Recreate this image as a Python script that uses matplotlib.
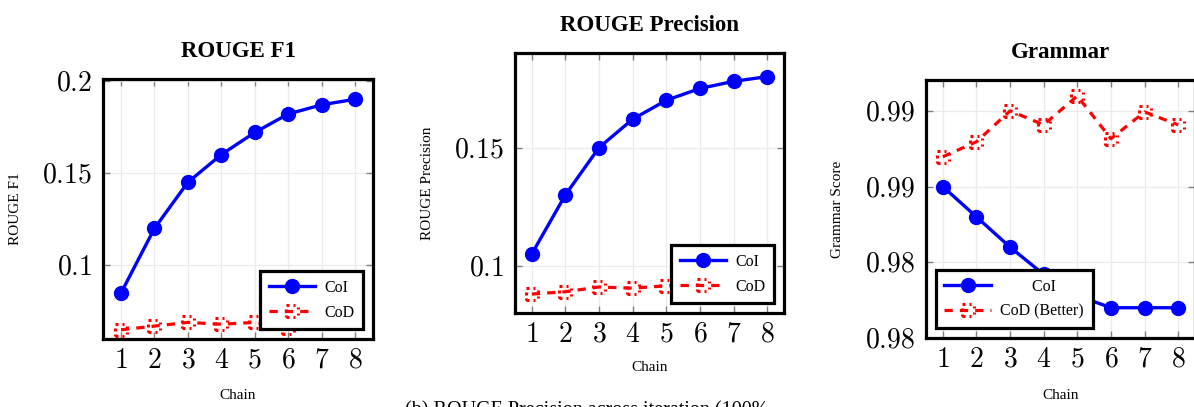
import numpy as np
import matplotlib
matplotlib.use("Agg")
import matplotlib.pyplot as plt
from matplotlib.path import Path

plt.rcParams["font.family"] = ["Liberation Serif", "DejaVu Serif"]
plt.rcParams["mathtext.fontset"] = "cm"

# data
chain = [1, 2, 3, 4, 5, 6, 7, 8]

f1_coi = [0.085, 0.12, 0.145, 0.16, 0.172, 0.182, 0.187, 0.19]
f1_cod = [0.065, 0.067, 0.069, 0.068, 0.069, 0.066, 0.070, 0.070]

prec_coi = [0.105, 0.13, 0.15, 0.162, 0.17, 0.175, 0.178, 0.18]
prec_cod = [0.088, 0.089, 0.091, 0.0905, 0.0915, 0.092, 0.093, 0.093]

gram_coi = [0.985, 0.983, 0.981, 0.9792, 0.9778, 0.977, 0.977, 0.977]
gram_cod = [0.98697, 0.98796, 0.9900, 0.98908, 0.99099, 0.98816, 0.98993, 0.98908]

f1_ticks = [0.1, 0.15, 0.2]
f1_ticklabels = ["0.1", "0.15", "0.2"]
prec_ticks = [0.1, 0.15]
prec_ticklabels = ["0.1", "0.15"]
gram_ticks = [0.975, 0.98, 0.985, 0.99]
gram_ticklabels = ["0.98", "0.98", "0.99", "0.99"]


def dashed_square(on=0.5, off=0.6):
    # square marker whose outline is dashed, like the pgfplots marks
    corners = np.array([[-1, -1], [1, -1], [1, 1], [-1, 1], [-1, -1]], float)
    verts, codes = [], []
    drawing, left = True, on
    for a, b in zip(corners[:-1], corners[1:]):
        seg = np.linalg.norm(b - a)
        t = 0.0
        while t < seg - 1e-9:
            step = min(left, seg - t)
            p0 = a + (b - a) * t / seg
            p1 = a + (b - a) * (t + step) / seg
            if drawing:
                verts += [p0, p1]
                codes += [Path.MOVETO, Path.LINETO]
            t += step
            left -= step
            if left <= 1e-9:
                drawing = not drawing
                left = on if drawing else off
    return Path(verts, codes)


SQ = dashed_square()
BLUE, RED = "#0000ff", "#ff0000"

fig = plt.figure(figsize=(11.94, 4.07), dpi=100)


def panel(rect, xlim, ylim, coi, cod, ticks, ticklabels, title, ylabel,
          coi_label, cod_label, legloc, ylab_x, xlab_y):
    ax = fig.add_axes(rect)
    ax.plot(chain, coi, color=BLUE, lw=2.4, marker="o", ms=10, label=coi_label,
            clip_on=False, zorder=3)
    ln, = ax.plot(chain, cod, color=RED, lw=2.3, marker=SQ, ms=8, mew=2.2,
                  mfc="none", mec=RED, label=cod_label, zorder=3)
    ln.set_dashes((2.6, 2.2))
    ax.set_xlim(*xlim)
    ax.set_ylim(*ylim)
    ax.set_xticks(chain)
    ax.set_xticklabels([f"${c}$" for c in chain])
    ax.set_yticks(ticks)
    ax.set_yticklabels([f"${t}$" for t in ticklabels])
    ax.tick_params(direction="in", length=5, width=1, color="#808080",
                   top=True, right=True, labelsize=20)
    ax.tick_params(axis="y", pad=8)
    ax.tick_params(axis="x", pad=7)
    ax.grid(True, color="#ebebeb", lw=0.9)
    ax.set_axisbelow(True)
    for s in ax.spines.values():
        s.set_linewidth(2.3)
    ax.set_title(title, fontsize=16.5, fontweight="bold", pad=15.5)
    ax.set_ylabel(ylabel, fontsize=11)
    ax.set_xlabel("Chain", fontsize=11)
    ax.yaxis.set_label_coords(ylab_x, 0.5)
    ax.xaxis.set_label_coords(0.5, xlab_y)
    leg = ax.legend(loc=legloc, fontsize=11.5, fancybox=False, framealpha=1,
                    edgecolor="black", handlelength=2.9, handletextpad=0.6,
                    borderaxespad=0.6, labelspacing=0.55, borderpad=0.55)
    leg.get_frame().set_linewidth(2.3)
    return ax


panel([103 / 1194, 1 - 339 / 407, 270 / 1194, 260 / 407], (0.46, 8.54),
      (0.06, 0.201), f1_coi, f1_cod, f1_ticks, f1_ticklabels,
      "ROUGE F1", "ROUGE F1", "CoI", "CoD", "lower right", -0.30, -0.192)

panel([515 / 1194, 1 - 313 / 407, 269 / 1194, 260 / 407], (0.5, 8.5),
      (0.080, 0.190), prec_coi, prec_cod, prec_ticks, prec_ticklabels,
      "ROUGE Precision", "ROUGE Precision", "CoI", "CoD", "lower right",
      -0.301, -0.185)

# CoI sits centred over the wider CoD label in the reference legend
panel([926 / 1194, 1 - 338 / 407, 269 / 1194, 258 / 407], (0.5, 8.5),
      (0.975, 0.99204), gram_coi, gram_cod, gram_ticks, gram_ticklabels,
      "Grammar", "Grammar Score", "        CoI", "CoD (Better)", "lower left",
      -0.306, -0.198)

fig.text(405 / 1194, 1 - 401 / 407, "(b) ROUGE Precision across iteration (100%",
         fontsize=14.5, va="top", ha="left")

fig.savefig("out.png", dpi=100)
